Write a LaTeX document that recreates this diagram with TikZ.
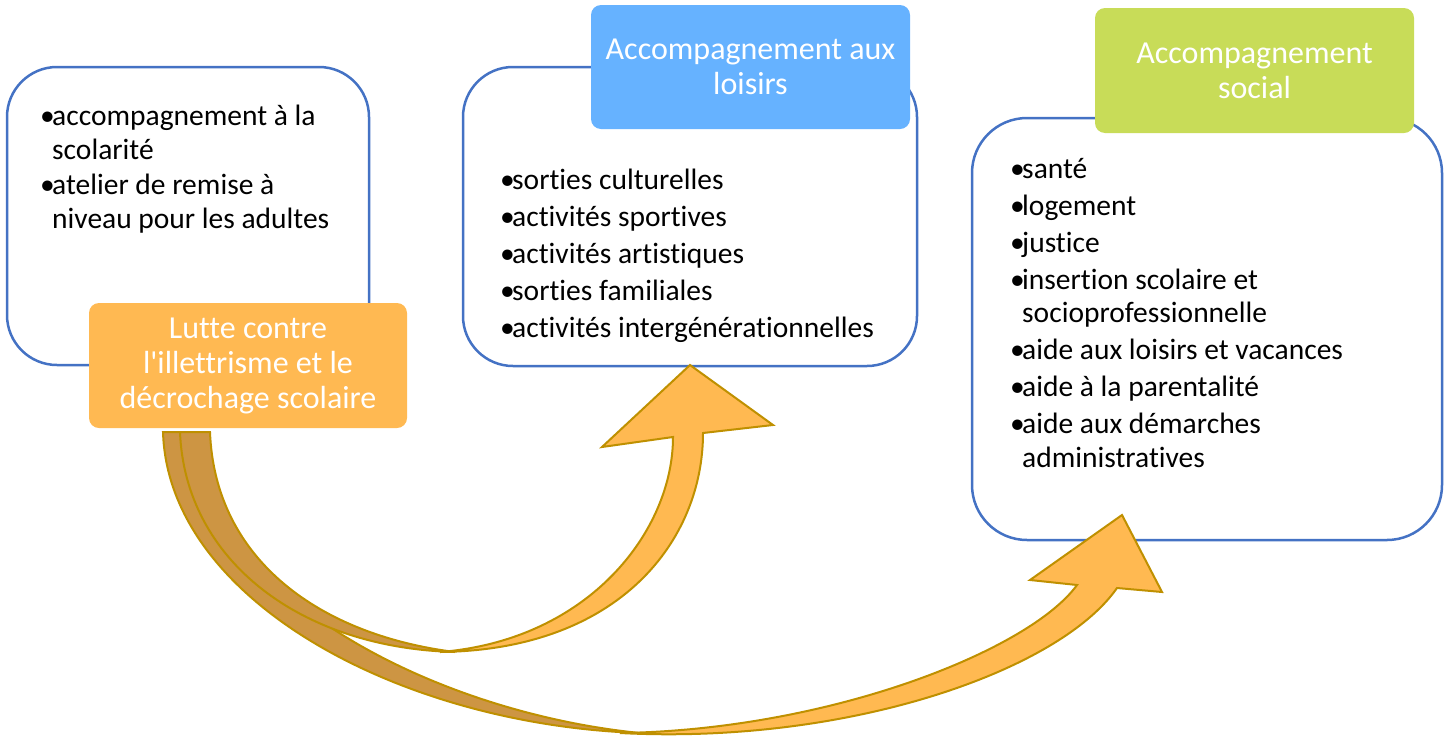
\documentclass[tikz,border=0pt]{standalone}
\usepackage{fontspec}
\setmainfont{Carlito}[Ligatures={TeXOff,CommonOff}]
\usetikzlibrary{positioning}

\definecolor{cadre}{HTML}{4472C4}
\definecolor{orangeT}{HTML}{FFB952}
\definecolor{bleuT}{HTML}{66B2FF}
\definecolor{vertT}{HTML}{C8DC58}
\definecolor{flecheC}{HTML}{FFB951}
\definecolor{flecheF}{HTML}{CD9543}
\definecolor{flecheB}{HTML}{BF9000}

\tikzset{
  panel/.style={draw=cadre, line width=2.5pt, rounded corners=50pt, fill=white},
  titre/.style={rounded corners=10pt, text=white, align=center, inner sep=0pt,
    font=\fontsize{32}{35}\selectfont},
  liste/.style={anchor=north west, inner sep=0pt, align=left,
    font=\fontsize{29.5}{33.5}\selectfont},
  ruban/.style={draw=flecheB, line width=2pt, line join=miter}
}

\newcommand{\puce}{\makebox[12pt][l]{•}}
\newcommand{\retrait}{\hspace*{12pt}}

\begin{document}
\begin{tikzpicture}[x=1pt, y=-1pt]
  \useasboundingbox (0,0) rectangle (1453,737);

  % les trois cadres
  \node[panel, minimum width=362pt, minimum height=298pt] (boite1) at (188,216) {};
  \node[panel, minimum width=454pt, minimum height=299pt] (boite2) at (690,216.5) {};
  \node[panel, minimum width=470pt, minimum height=422pt, rounded corners=55pt] (boite3) at (1207,329) {};

  % listes
  \node[liste] (items1) at (40,105) {\puce accompagnement à la\\
    \retrait scolarité\\[2pt]
    \puce atelier de remise à\\
    \retrait niveau pour les adultes};
  \node[liste] (items2) at (500,169) {\puce sorties culturelles\\[3.5pt]
    \puce activités sportives\\[3.5pt]
    \puce activités artistiques\\[3.5pt]
    \puce sorties familiales\\[3.5pt]
    \puce activités intergénérationnelles};
  \node[liste] (items3) at (1010,158) {\puce santé\\[3.5pt]
    \puce logement\\[3.5pt]
    \puce justice\\[3.5pt]
    \puce insertion scolaire et\\
    \retrait socioprofessionnelle\\[3.5pt]
    \puce aide aux loisirs et vacances\\[3.5pt]
    \puce aide à la parentalité\\[3.5pt]
    \puce aide aux démarches\\
    \retrait administratives};

  % fleche longue
  \path[ruban, fill=flecheF] (163,432) .. controls (168,600) and (400,725) .. (640,733)
    .. controls (430,712) and (200,590) .. (196,432) -- cycle;
  \path[ruban, fill=flecheC] (620,733) .. controls (850,745) and (1060,670) .. (1117,588)
    -- (1162,592) -- (1122,515) -- (1030,580) -- (1077,585)
    .. controls (1030,650) and (830,730) .. (620,733) -- cycle;

  % fleche courte
  \path[ruban, fill=flecheF] (180,432) .. controls (185,560) and (300,648) .. (455,652)
    .. controls (320,635) and (215,560) .. (210,432) -- cycle;
  \path[ruban, fill=flecheC] (440,652) .. controls (620,650) and (703,540) .. (703,433)
    -- (773,425) -- (690,365) -- (602,447) -- (673,437)
    .. controls (673,530) and (590,640) .. (440,652) -- cycle;

  % titres
  \node[titre, fill=orangeT, minimum width=318pt, minimum height=125pt] (lutte) at (248,365.5)
    {Lutte contre\\l'illettrisme et le\\décrochage scolaire};
  \node[titre, fill=bleuT, minimum width=319pt, minimum height=124pt] (loisirs) at (750.5,67)
    {Accompagnement aux\\loisirs};
  \node[titre, fill=vertT, minimum width=319pt, minimum height=125pt] (social) at (1254.5,70.5)
    {Accompagnement\\social};
\end{tikzpicture}
\end{document}
